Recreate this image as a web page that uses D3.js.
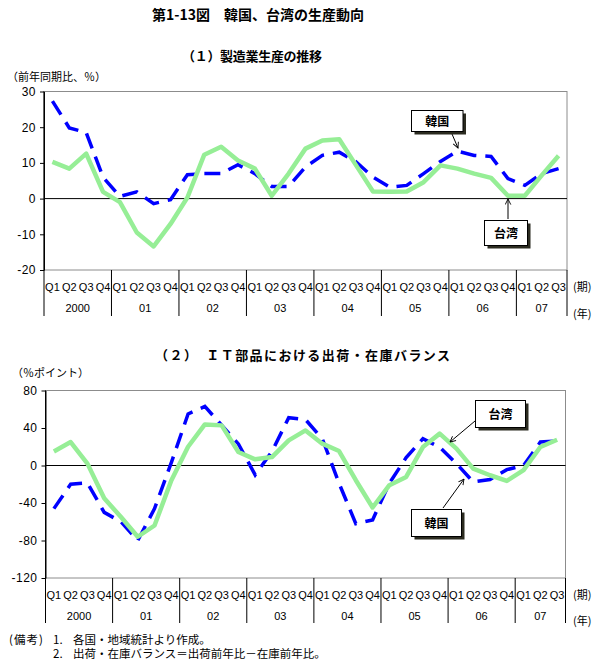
<!DOCTYPE html>
<html>
<head>
<meta charset="utf-8">
<script src="https://cdn.jsdelivr.net/npm/d3@7"></script>
<style>
  body { margin: 0; background: #fff; }
  svg { display: block; }
  .jp { font-family: "Noto Sans CJK JP", sans-serif; }
  .num { font-family: "Liberation Sans Narrow", "Liberation Sans", Arial, sans-serif; font-size: 11px; }
  .tick-num { font-family: "Liberation Sans", Arial, sans-serif; font-size: 12px; letter-spacing: 0.5px; }
</style>
</head>
<body>
<svg id="chart"></svg>
<script>
// quarters 2000Q1 .. 2007Q3
const quarters = ["Q1","Q2","Q3","Q4","Q1","Q2","Q3","Q4","Q1","Q2","Q3","Q4","Q1","Q2","Q3","Q4",
                  "Q1","Q2","Q3","Q4","Q1","Q2","Q3","Q4","Q1","Q2","Q3","Q4","Q1","Q2","Q3"];
const years = ["2000","01","02","03","04","05","06","07"];

// (1) manufacturing production, yoy %
const prodKorea  = [27.3, 19.8, 18.5, 6, 0.6, 1.9, -1.4, -0.3, 6.7, 7, 7, 9.5, 7, 3.4, 3.4, 8.9,
                    12.1, 13, 10.3, 6, 3.2, 3.7, 7, 10.4, 13.3, 12.1, 11.8, 5.6, 3.7, 7, 8.4];
const prodTaiwan = [10.3, 8.4, 12.6, 1.9, -1, -9.5, -13.4, -7.1, 0.3, 12.3, 14.5, 10.7, 8.4, 0.8, 7, 14,
                    16.3, 16.6, 9.3, 2, 1.9, 2, 4.6, 9.3, 8.4, 7, 5.8, 0.8, 0.8, 6.5, 12];

// (2) IT parts shipment-inventory balance, % points
const balKorea  = [-46, -20, -18.6, -50, -60, -80, -46, 3, 55, 63, 43, 23, -10, 15, 51, 49,
                   28.6, -19, -62, -58, -19, 8.4, 28.6, 19.5, 2, -17.5, -15, -4.4, 0, 25, 26];
const balTaiwan = [15, 25, 2, -35, -55, -76, -64, -16, 20, 43.8, 42.8, 14.4, 6.6, 9, 26.8, 37.4,
                   23.3, 15.4, -15.7, -44.8, -21, -12.2, 19.7, 34, 18, -3.3, -10.4, -16.5, -5, 19.7, 27.5];

const ticks1 = [-20, -10, 0, 10, 20, 30];
const ticks2 = [-120, -80, -40, 0, 40, 80];

const W = 601, H = 664;
const svg = d3.select("#chart").attr("width", W).attr("height", H);

svg.append("defs").append("marker")
    .attr("id", "arr")
    .attr("viewBox", "0 0 10 10")
    .attr("refX", 9).attr("refY", 5)
    .attr("markerWidth", 7).attr("markerHeight", 7)
    .attr("markerUnits", "userSpaceOnUse")
    .attr("orient", "auto")
    .append("path")
    .attr("d", "M1,1 L9,5 L1,9")
    .attr("fill", "none").attr("stroke", "#000").attr("stroke-width", 1.3);

// titles
svg.append("text").attr("class", "jp").attr("x", 258).attr("y", 19.5)
    .attr("text-anchor", "middle").attr("font-size", 14).attr("font-weight", "bold")
    .text("第1-13図　韓国、台湾の生産動向");
svg.append("text").attr("class", "jp").attr("x", 182).attr("y", 60.5)
    .attr("font-size", 13).attr("font-weight", "bold")
    .attr("textLength", 140).attr("lengthAdjust", "spacing")
    .text("（１）製造業生産の推移");
svg.append("text").attr("class", "jp").attr("x", 155).attr("y", 359.5)
    .attr("font-size", 13).attr("font-weight", "bold")
    .attr("textLength", 295).attr("lengthAdjust", "spacing")
    .text("（２）　ＩＴ部品における出荷・在庫バランス");

function drawPanel(cfg) {
    const g = svg.append("g");
    const idx = d3.range(quarters.length);

    const x = d3.scaleBand().domain(idx).range([cfg.left, cfg.right]).paddingInner(0).paddingOuter(0);
    const y = d3.scaleLinear().domain(cfg.domain).range([cfg.bottom, cfg.top]);
    const cx = i => x(i) + x.bandwidth() / 2;

    // plot frame
    g.append("rect")
        .attr("x", cfg.left).attr("y", cfg.top)
        .attr("width", cfg.right - cfg.left).attr("height", cfg.bottom - cfg.top)
        .attr("fill", "none").attr("stroke", "#8c8c8c").attr("stroke-width", 1);

    // zero line
    g.append("line")
        .attr("x1", cfg.left).attr("x2", cfg.right)
        .attr("y1", y(0)).attr("y2", y(0))
        .attr("stroke", "#000").attr("stroke-width", 1);

    // y axis
    const yAxis = d3.axisLeft(y).tickValues(cfg.ticks).tickSize(4).tickSizeOuter(0)
        .tickFormat(d => d < 0 ? "-" + Math.abs(d) : d);
    const ya = g.append("g").attr("transform", `translate(${cfg.left},0)`).call(yAxis);
    ya.select(".domain").attr("stroke", "#000");
    ya.selectAll("text").attr("class", "tick-num").attr("font-size", null).attr("font-family", null)
        .attr("fill", "#000").attr("dx", "-1");

    // category lines (year separators)
    const bounds = [0, 4, 8, 12, 16, 20, 24, 28];
    bounds.forEach(b => {
        g.append("line")
            .attr("x1", x(b)).attr("x2", x(b))
            .attr("y1", b === 0 ? cfg.top : cfg.bottom).attr("y2", cfg.sepBottom)
            .attr("stroke", "#000").attr("stroke-width", 1);
    });
    g.append("line")
        .attr("x1", cfg.right).attr("x2", cfg.right)
        .attr("y1", cfg.bottom).attr("y2", cfg.sepBottom)
        .attr("stroke", "#000").attr("stroke-width", 1);

    // quarter labels
    g.selectAll(".q").data(idx).join("text")
        .attr("class", "num")
        .attr("x", d => cx(d)).attr("y", cfg.qY)
        .attr("text-anchor", "middle")
        .text(d => quarters[d]);

    // year labels
    g.selectAll(".yr").data(years).join("text")
        .attr("class", "num")
        .attr("x", (d, i) => {
            const a = i * 4, b = Math.min(i * 4 + 4, quarters.length);
            return (x(a) + (b < quarters.length ? x(b) : cfg.right)) / 2;
        })
        .attr("y", cfg.yrY)
        .attr("text-anchor", "middle")
        .text(d => d);

    g.append("text").attr("class", "jp").attr("x", 573).attr("y", cfg.qY)
        .attr("font-size", 11).text("(期)");
    g.append("text").attr("class", "jp").attr("x", 573).attr("y", cfg.nenY)
        .attr("font-size", 11).text("(年)");

    // unit label
    g.append("text").attr("class", "jp").attr("x", cfg.unitX).attr("y", cfg.unitY)
        .attr("font-size", 11).text(cfg.unit);

    const line = d3.line().x((d, i) => cx(i)).y(d => y(d));

    g.append("path").datum(cfg.korea)
        .attr("d", line)
        .attr("fill", "none").attr("stroke", "#0000ff").attr("stroke-width", 3.5)
        .attr("stroke-dasharray", "16,9");

    g.append("path").datum(cfg.taiwan)
        .attr("d", line)
        .attr("fill", "none").attr("stroke", "#96ee96").attr("stroke-width", 4.5)
        .attr("stroke-linejoin", "round");

    // callouts
    cfg.callouts.forEach(c => {
        g.append("line")
            .attr("x1", c.ax1).attr("y1", c.ay1).attr("x2", c.ax2).attr("y2", c.ay2)
            .attr("stroke", "#000").attr("stroke-width", 1)
            .attr("marker-end", "url(#arr)");
        g.append("rect")
            .attr("x", c.x + 3).attr("y", c.y + 3).attr("width", c.w).attr("height", c.h)
            .attr("fill", "#2b2b20");
        g.append("rect")
            .attr("x", c.x).attr("y", c.y).attr("width", c.w).attr("height", c.h)
            .attr("fill", "#fff").attr("stroke", "#000").attr("stroke-width", 1);
        g.append("text").attr("class", "jp")
            .attr("x", c.x + c.w / 2).attr("y", c.y + c.h / 2 + 4.5)
            .attr("text-anchor", "middle").attr("font-size", 12).attr("font-weight", "bold")
            .text(c.label);
    });
}

drawPanel({
    left: 44, right: 567, top: 91.5, bottom: 270, domain: [-20, 30], ticks: ticks1,
    sepBottom: 316, qY: 291, yrY: 312, nenY: 318,
    unit: "（前年同期比、％）", unitX: 7, unitY: 80.5,
    korea: prodKorea, taiwan: prodTaiwan,
    callouts: [
        { label: "韓国", x: 411.5, y: 110.5, w: 51.5, h: 21, ax1: 452, ay1: 134, ax2: 458, ay2: 148 },
        { label: "台湾", x: 484.5, y: 220.5, w: 43, h: 25, ax1: 508, ay1: 219, ax2: 508, ay2: 199 }
    ]
});

drawPanel({
    left: 45.5, right: 565.5, top: 390.5, bottom: 578, domain: [-120, 80], ticks: ticks2,
    sepBottom: 623, qY: 599, yrY: 619.5, nenY: 625,
    unit: "（％ポイント）", unitX: 12, unitY: 377,
    korea: balKorea, taiwan: balTaiwan,
    callouts: [
        { label: "台湾", x: 475.5, y: 400.5, w: 50, h: 27, ax1: 475, ay1: 421, ax2: 450, ay2: 442 },
        { label: "韓国", x: 411.5, y: 509.5, w: 50, h: 27, ax1: 443, ay1: 508, ax2: 464, ay2: 479 }
    ]
});

// notes
const notes = svg.append("g").attr("class", "jp").attr("font-size", 11.5);
notes.append("text").attr("x", 9).attr("y", 643.5)
    .attr("letter-spacing", 1).text("(備考)");
notes.append("text").attr("x", 53).attr("y", 643.5).text("1.");
notes.append("text").attr("x", 73).attr("y", 643.5).text("各国・地域統計より作成。");
notes.append("text").attr("x", 53).attr("y", 658).text("2.");
notes.append("text").attr("x", 73).attr("y", 658).text("出荷・在庫バランス＝出荷前年比－在庫前年比。");
</script>
</body>
</html>
